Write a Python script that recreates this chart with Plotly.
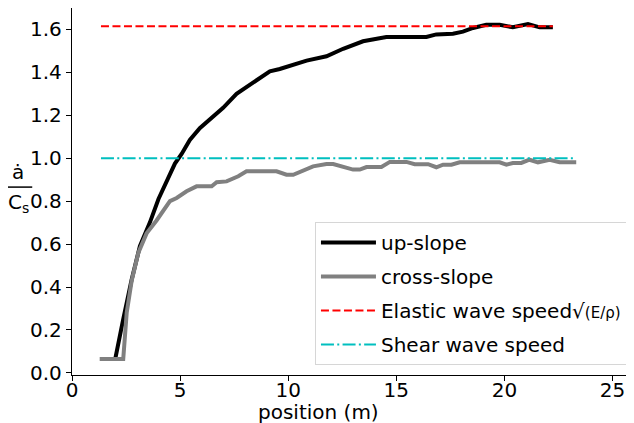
import plotly.graph_objects as go

up_x = [1.29, 2.0, 2.37, 2.75, 3.14, 3.6, 4.0, 4.37, 4.76, 5.07, 5.45, 5.91, 6.38, 6.99,
        7.61, 8.38, 9.15, 9.61, 10.23, 10.85, 11.77, 12.54, 13.46, 14.54, 16.39, 16.85,
        17.62, 18.08, 18.55, 19.16, 19.78, 20.39, 21.09, 21.63, 22.24]
up_y = [0.065, 0.065, 0.25, 0.43, 0.59, 0.70, 0.81, 0.89, 0.975, 1.02, 1.085, 1.14, 1.18, 1.235,
        1.30, 1.35, 1.405, 1.416, 1.435, 1.455, 1.475, 1.51, 1.545, 1.565, 1.565, 1.577,
        1.58, 1.59, 1.607, 1.622, 1.622, 1.61, 1.625, 1.61, 1.61]

cross_x = [1.29, 2.37, 2.53, 2.76, 3.07, 3.45, 3.91, 4.53, 4.84, 5.30, 5.76, 6.46, 6.69, 7.15,
           7.69, 8.07, 9.46, 9.92, 10.23, 10.6, 11.15, 11.77, 12.08, 13.0, 13.31, 13.62, 14.31,
           14.7, 15.47, 15.85, 16.47, 16.85, 17.16, 17.55, 17.93, 19.78, 20.09, 20.39, 20.78,
           21.16, 21.55, 22.09, 22.55, 23.32]
cross_y = [0.065, 0.065, 0.28, 0.43, 0.56, 0.65, 0.71, 0.80, 0.815, 0.846, 0.869, 0.869, 0.888, 0.892,
           0.916, 0.939, 0.939, 0.923, 0.923, 0.94, 0.962, 0.973, 0.973, 0.947, 0.947, 0.959, 0.959,
           0.983, 0.983, 0.972, 0.972, 0.958, 0.970, 0.970, 0.981, 0.981, 0.970, 0.978, 0.978,
           0.993, 0.981, 0.993, 0.981, 0.981]

elastic_x = [1.34, 22.24]
elastic_y = [1.615, 1.615]
shear_x = [1.34, 23.24]
shear_y = [1.0, 1.0]

x_ticks = [0, 5, 10, 15, 20, 25]
y_ticks = [0.0, 0.2, 0.4, 0.6, 0.8, 1.0, 1.2, 1.4, 1.6]

FONT = "DejaVu Sans"

fig = go.Figure()
fig.add_trace(go.Scatter(x=up_x, y=up_y, mode="lines", name="up-slope", legendgroup="a",
                         line=dict(color="black", width=4)))
fig.add_trace(go.Scatter(x=cross_x, y=cross_y, mode="lines", name="cross-slope", legendgroup="b",
                         line=dict(color="#808080", width=4)))
fig.add_trace(go.Scatter(x=elastic_x, y=elastic_y, mode="lines", legendgroup="c",
                         name="Elastic wave speed√<span style='font-size:15px'>(E/ρ)</span>",
                         line=dict(color="red", width=2, dash="8px,3.5px")))
fig.add_trace(go.Scatter(x=shear_x, y=shear_y, mode="lines", name="Shear wave speed",
                         legendgroup="d",
                         line=dict(color="#00bfbf", width=2, dash="13px,3.3px,2px,3.3px")))

axis_common = dict(showline=True, linecolor="black", linewidth=1.3, mirror=True,
                   ticks="outside", ticklen=5, tickwidth=1.3, tickcolor="black",
                   showgrid=False, zeroline=False, automargin=False,
                   tickfont=dict(family=FONT, size=20, color="black"))

fig.update_xaxes(range=[0, 25.9], tickvals=x_ticks, ticklabelstandoff=-8, **axis_common)
fig.update_yaxes(range=[-0.01, 1.70], tickvals=y_ticks, tickformat=".1f", **axis_common)

# x-axis title
fig.add_annotation(text="position (m)", xref="paper", yref="paper", x=0.44, y=-0.062,
                   xanchor="center", yanchor="top", showarrow=False,
                   font=dict(family=FONT, size=20, color="black"))

# y-axis label as a fraction: a-dot over C_s
fig.add_annotation(text="ȧ", xref="paper", yref="paper", x=-0.097, y=0.515,
                   xanchor="center", yanchor="bottom", showarrow=False,
                   font=dict(family=FONT, size=20, color="black"))
fig.add_annotation(text="C<sub>s</sub>", xref="paper", yref="paper", x=-0.096, y=0.51,
                   xanchor="center", yanchor="top", showarrow=False,
                   font=dict(family=FONT, size=20, color="black"))
fig.add_shape(type="line", xref="paper", yref="paper", x0=-0.116, x1=-0.071, y0=0.512, y1=0.512,
              line=dict(color="black", width=1.5))

# The page body adds an 8px offset, so the figure is sized to fit the remaining window.
fig.update_layout(
    width=626, height=415,
    margin=dict(l=64, r=2, t=0, b=48),
    plot_bgcolor="white", paper_bgcolor="white",
    font=dict(family=FONT, size=20, color="black"),
    legend=dict(x=0.991, y=0.027, xanchor="right", yanchor="bottom",
                bgcolor="rgba(255,255,255,0.8)", bordercolor="#d6d6d6", borderwidth=1,
                font=dict(family=FONT, size=20, color="black"),
                itemwidth=55, tracegroupgap=5),
    showlegend=True,
)

fig.write_html("out.html")
